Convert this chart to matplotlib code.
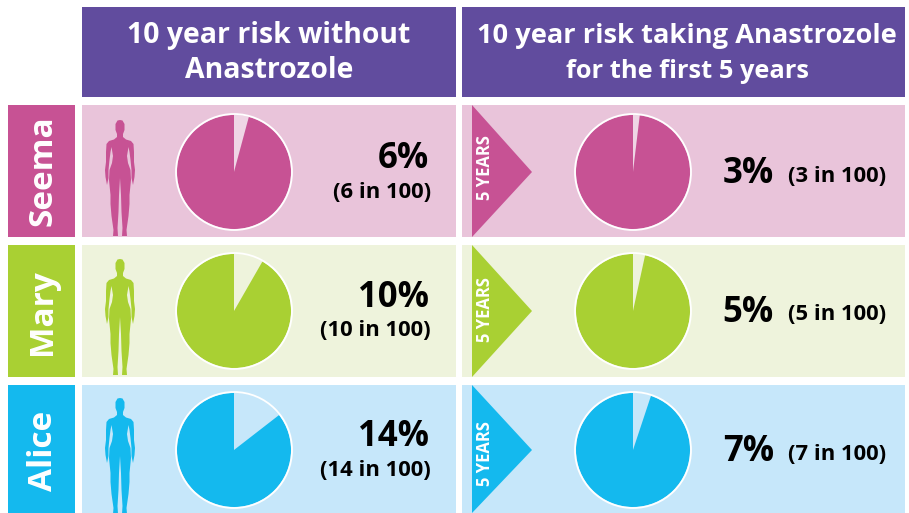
import matplotlib
matplotlib.use("Agg")
import matplotlib.pyplot as plt
from matplotlib.patches import Rectangle, Polygon, Circle

plt.rcParams['font.family'] = ['Open Sans', 'DejaVu Sans']

names = ["Seema", "Mary", "Alice"]
risk_without = [6, 10, 14]
risk_with = [3, 5, 7]
# slice sizes as drawn in the picture, which run smaller than the printed labels
slice_without = [4.2, 8.3, 14.5]
slice_with = [1.9, 3.4, 5.1]
header_left = ["10 year risk without", "Anastrozole"]
header_right = ["10 year risk taking Anastrozole", "for the first 5 years"]
dark = ["#C75294", "#A9D033", "#14B9EE"]
light = ["#E9C4DA", "#EEF3DC", "#C6E7FA"]
wedge_light = ["#EFD5E5", "#EEF3DC", "#C6E7FA"]
purple = "#614C9E"

row_top = [105, 245, 385]
row_bot = [237, 377, 513]
pie_y = [172, 311, 450]
name_y = [171, 312, 451]
years_y = [168, 310, 454]

fig = plt.figure(figsize=(9.09, 5.13), dpi=100, facecolor="white")
ax = fig.add_axes([0, 0, 1, 1])

for x0, x1, lines, tx, sizes in [(82, 456, header_left, 269, (20.4, 20.4)),
                                 (462, 905, header_right, 687, (19.6, 18.3))]:
    ax.add_patch(Rectangle((x0, 7), x1 - x0, 90, fc=purple, ec="none"))
    for line, y, fs in zip(lines, (36, 71), sizes):
        ax.text(tx, y, line, color="white", ha="center", va="center", fontsize=fs, fontweight="bold")

half = [(0, 0), (2.5, 0.5), (4.5, 4), (4.5, 10), (3, 14), (3, 17), (6, 19.5), (11, 21), (13.5, 24), (14, 32),
        (14, 42), (15, 50), (14.5, 57), (13, 65), (11.5, 58), (11.5, 50), (10.5, 40), (9.5, 32),
        (8.5, 27), (7, 36), (8, 43), (10.5, 50), (11, 60), (9.5, 75), (9.5, 84), (8.5, 96), (6.5, 110),
        (7, 116), (2, 116), (2.5, 108), (1.5, 92), (1, 75), (0, 58)]


def body(color, cx, top):
    pts = [(cx + a, top + b) for a, b in half] + [(cx - a, top + b) for a, b in reversed(half)]
    ax.add_patch(Polygon(pts, closed=True, fc=color, ec="none", zorder=3, clip_on=True))


def pie(v, cx, cy, main, pale):
    # the y axis is inverted, so 270 degrees is the top of the picture and counterclockwise runs clockwise on screen
    ax.pie([v, 100 - v], colors=[pale, main], startangle=270, counterclock=True, center=(cx, cy), radius=57,
           frame=True, wedgeprops=dict(linewidth=0), normalize=True)
    ax.add_patch(Circle((cx, cy), 58, fc="none", ec="white", lw=1.3))


for i, name in enumerate(names):
    t, b, cy = row_top[i], row_bot[i], pie_y[i]
    ax.add_patch(Rectangle((8, t), 67, b - t, fc=dark[i], ec="none"))
    ax.add_patch(Rectangle((82, t), 374, b - t, fc=light[i], ec="none"))
    ax.add_patch(Rectangle((462, t), 443, b - t, fc=light[i], ec="none"))
    ax.text(43, name_y[i], name, color="white", rotation=90, ha="center", va="center", fontsize=24,
            fontweight="bold")
    body(dark[i], 120, cy - 52)
    pie(slice_without[i], 234, cy, dark[i], wedge_light[i])
    pie(slice_with[i], 633, cy, dark[i], wedge_light[i])
    ax.add_patch(Polygon([(472, t), (532, cy), (472, b)], closed=True, fc=dark[i], ec="none", zorder=3))
    ax.text(485, years_y[i], "5 YEARS", color="white", rotation=90, ha="center", va="center", fontsize=12,
            fontweight="bold", zorder=4)
    ax.text(429, cy - 13, f"{risk_without[i]}%", color="black", ha="right", va="center", fontsize=25,
            fontweight="bold")
    ax.text(431, cy + 20, f"({risk_without[i]} in 100)", color="black", ha="right", va="center", fontsize=15.8,
            fontweight="bold")
    ax.text(774, cy + 2, f"{risk_with[i]}%", color="black", ha="right", va="center", fontsize=25,
            fontweight="bold")
    ax.text(886, cy + 4, f"({risk_with[i]} in 100)", color="black", ha="right", va="center", fontsize=15.8,
            fontweight="bold")

ax.set_xlim(0, 909)
ax.set_ylim(513, 0)
ax.set_aspect("auto")
ax.axis("off")
fig.savefig("out.png", dpi=100, facecolor="white")
